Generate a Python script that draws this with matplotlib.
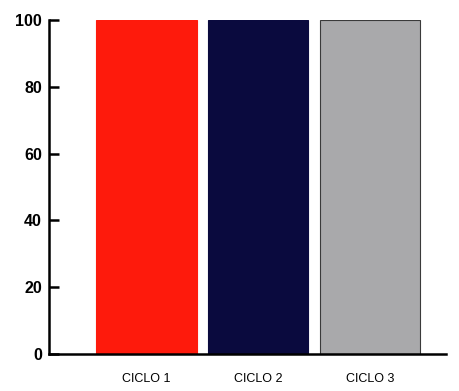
import matplotlib
matplotlib.use("Agg")
import matplotlib.pyplot as plt
import numpy as np

# -----------------------------
# Data
# -----------------------------
categories = ["CICLO 1", "CICLO 2", "CICLO 3"]
values = [100, 100, 100]
colors = ["#fe1a0c", "#0a0a3e", "#a9a9ab"]
edges = ["#fe1a0c", "#0a0a3e", "#3a3a3a"]

yticks = [0, 20, 40, 60, 80, 100]

# -----------------------------
# Figure
# -----------------------------
fig = plt.figure(figsize=(4.59, 3.91), dpi=100)
ax = fig.add_axes([0.1068, 0.0946, 0.865, 0.8542])

x = np.arange(len(categories))
ax.bar(x, values, width=0.9, color=colors, edgecolor=edges, linewidth=0.8, zorder=2)

ax.set_xlim(-0.87, 2.68)
ax.set_ylim(0, 100)

ax.set_yticks(yticks)
ax.set_yticklabels([str(t) for t in yticks], fontsize=11.5, fontweight="bold", family="Liberation Sans")
ax.tick_params(axis="y", direction="in", length=7, width=1.8, pad=5, colors="black")

ax.set_xticks(x)
ax.set_xticklabels(categories, fontsize=9, family="Liberation Sans")
ax.tick_params(axis="x", length=0, pad=14)

for s in ["top", "right"]:
    ax.spines[s].set_visible(False)
for s in ["left", "bottom"]:
    ax.spines[s].set_linewidth(1.8)

fig.savefig("out.png", dpi=100)
